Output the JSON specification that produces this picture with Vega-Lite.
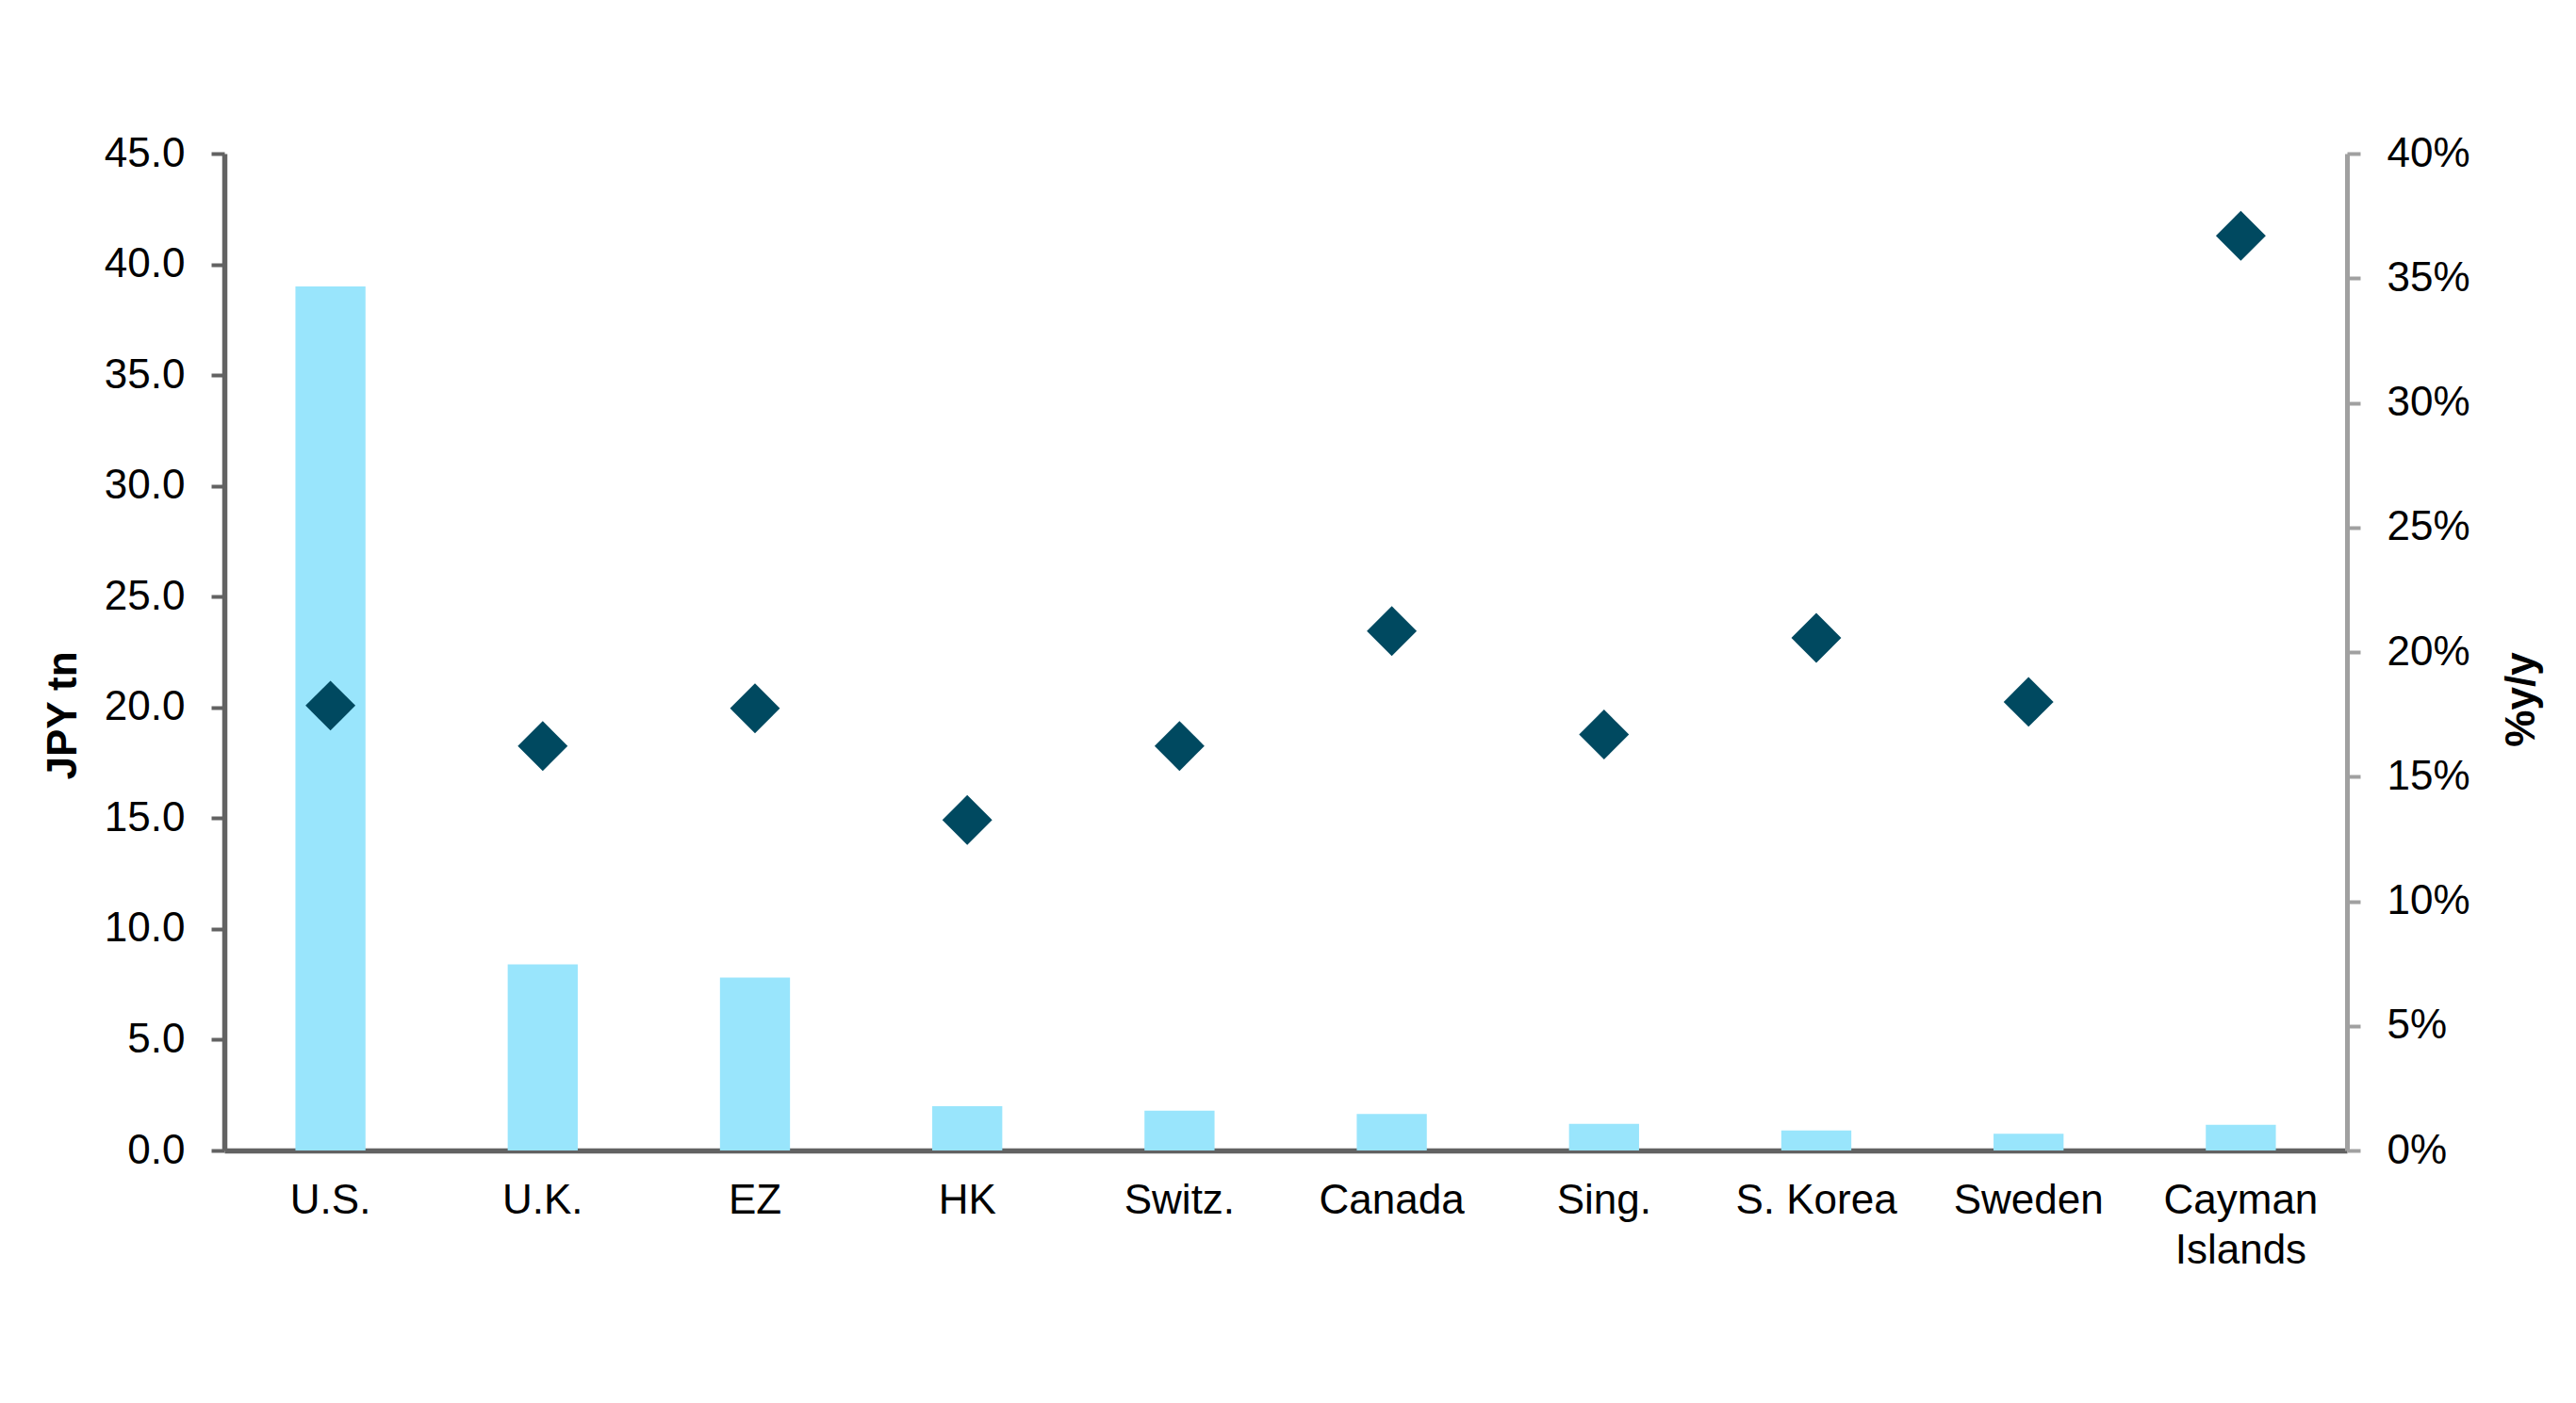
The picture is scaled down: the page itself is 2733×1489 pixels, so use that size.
{
  "$schema": "https://vega.github.io/schema/vega-lite/v6.json",
  "autosize": {"type": "none"},
  "padding": {"left": 238, "top": 163, "right": 243, "bottom": 268},
  "width": 2252,
  "height": 1058,
  "background": "white",
  "config": {
    "view": {"stroke": null},
    "font": "Liberation Sans",
    "axis": {"grid": false, "labelFont": "Liberation Sans", "titleFont": "Liberation Sans", "labelColor": "#000000", "titleColor": "#000000"}
  },
  "data": {
    "values": [
      {"country": "U.S.", "value": 39.0, "yoy": 17.85},
      {"country": "U.K.", "value": 8.4, "yoy": 16.23},
      {"country": "EZ", "value": 7.8, "yoy": 17.74},
      {"country": "HK", "value": 2.0, "yoy": 13.26},
      {"country": "Switz.", "value": 1.8, "yoy": 16.23},
      {"country": "Canada", "value": 1.65, "yoy": 20.84},
      {"country": "Sing.", "value": 1.2, "yoy": 16.69},
      {"country": "S. Korea", "value": 0.9, "yoy": 20.57},
      {"country": "Sweden", "value": 0.75, "yoy": 18.0},
      {"country": "Cayman Islands", "value": 1.16, "yoy": 36.7}
    ]
  },
  "encoding": {
    "x": {
      "field": "country",
      "type": "nominal",
      "sort": null,
      "scale": {"paddingInner": 0, "paddingOuter": 0},
      "axis": {
        "title": null,
        "labelAngle": 0,
        "labelFontSize": 44,
        "labelPadding": 31,
        "labelBaseline": "top",
        "labelLineHeight": 53,
        "labelExpr": "datum.value == 'Cayman Islands' ? ['Cayman', 'Islands'] : datum.value",
        "ticks": false,
        "tickSize": 0,
        "domainColor": "#626262",
        "domainWidth": 5.5
      }
    }
  },
  "layer": [
    {
      "mark": {"type": "bar", "color": "#99E5FC", "width": {"band": 0.33}},
      "encoding": {
        "y": {
          "field": "value",
          "type": "quantitative",
          "scale": {"domain": [0, 45], "nice": false},
          "axis": {
            "orient": "left",
            "title": "JPY tn",
            "titleFontSize": 44,
            "titleFontWeight": "bold",
            "titleAngle": 270,
            "titleAlign": "center",
            "titleBaseline": "alphabetic",
            "titleX": -158,
            "titleY": 596,
            "values": [0, 5, 10, 15, 20, 25, 30, 35, 40, 45],
            "format": ".1f",
            "labelFontSize": 44,
            "labelPadding": 28,
            "tickSize": 14,
            "tickWidth": 4,
            "tickColor": "#626262",
            "domainColor": "#626262",
            "domainWidth": 5.5
          }
        }
      }
    },
    {
      "mark": {"type": "point", "shape": "diamond", "filled": true, "color": "#004960", "opacity": 1, "size": 2800},
      "encoding": {
        "y": {
          "field": "yoy",
          "type": "quantitative",
          "scale": {"domain": [0, 40], "nice": false},
          "axis": {
            "orient": "right",
            "title": "%y/y",
            "titleFontSize": 44,
            "titleFontWeight": "bold",
            "titleAngle": 270,
            "titleAlign": "center",
            "titleBaseline": "alphabetic",
            "titleX": 198,
            "titleY": 579,
            "values": [0, 5, 10, 15, 20, 25, 30, 35, 40],
            "labelExpr": "datum.value + '%'",
            "labelFontSize": 44,
            "labelPadding": 28,
            "tickSize": 14,
            "tickWidth": 4,
            "tickColor": "#A0A0A0",
            "domainColor": "#A0A0A0",
            "domainWidth": 5
          }
        }
      }
    }
  ],
  "resolve": {"scale": {"y": "independent"}}
}
